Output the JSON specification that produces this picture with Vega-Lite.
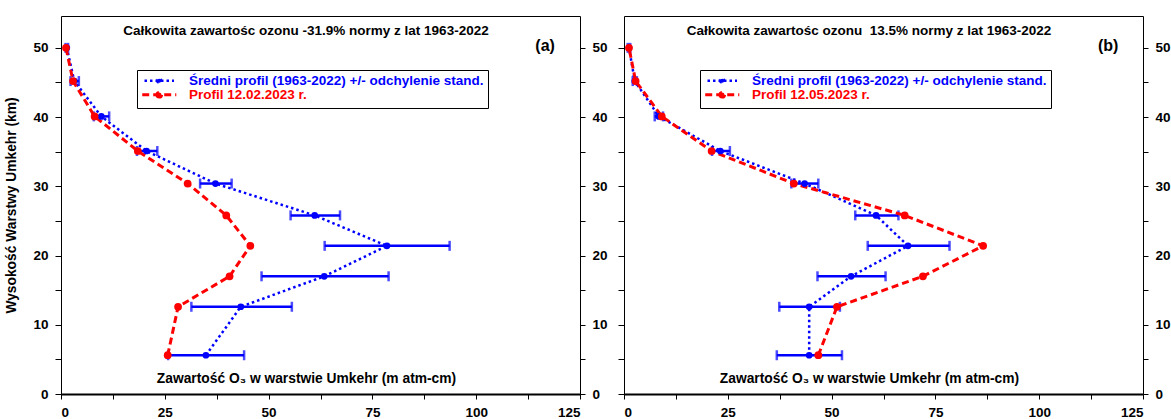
{
  "$schema": "https://vega.github.io/schema/vega-lite/v6.json",
  "background": "white",
  "padding": {"left": 4, "top": 15, "right": 2, "bottom": 0},
  "spacing": 44,
  "bounds": "flush",
  "config": {
    "view": {"stroke": "#000", "strokeWidth": 1},
    "font": "Liberation Sans",
    "axis": {"labelFont": "Liberation Sans", "labelFontWeight": "bold", "labelFontSize": 13.5, "labelColor": "#000", "tickColor": "#000", "titleFont": "Liberation Sans", "titleFontWeight": "bold", "titleFontSize": 13.8, "titleColor": "#000", "grid": false},
    "legend": {"orient": "none", "legendX": 76, "legendY": 54, "strokeColor": "#000", "fillColor": "#fff", "padding": 4, "labelFont": "Liberation Sans", "labelFontWeight": "bold", "labelFontSize": 13.5, "labelLimit": 400, "symbolType": "M-4.4,0H4.4M-0.6,0A0.6,0.6 0 1,0 0.6,0A0.6,0.6 0 1,0 -0.6,0", "symbolSize": 100, "symbolOffset": 11.5, "labelOffset": 23, "rowPadding": -2, "symbolStrokeWidth": 2.5}
  },
  "datasets": {
    "a": [
      {"h": 50.0, "series": "Średni profil (1963-2022) +/- odchylenie stand.", "v": 1.4, "lo": 1.1, "hi": 1.7},
      {"h": 45.2, "series": "Średni profil (1963-2022) +/- odchylenie stand.", "v": 3.2, "lo": 2.3, "hi": 4.3},
      {"h": 40.1, "series": "Średni profil (1963-2022) +/- odchylenie stand.", "v": 9.7, "lo": 7.9, "hi": 11.6},
      {"h": 35.1, "series": "Średni profil (1963-2022) +/- odchylenie stand.", "v": 20.6, "lo": 18.3, "hi": 23.2},
      {"h": 30.4, "series": "Średni profil (1963-2022) +/- odchylenie stand.", "v": 37.2, "lo": 33.5, "hi": 41.1},
      {"h": 25.8, "series": "Średni profil (1963-2022) +/- odchylenie stand.", "v": 61.1, "lo": 55.3, "hi": 67.2},
      {"h": 21.4, "series": "Średni profil (1963-2022) +/- odchylenie stand.", "v": 78.5, "lo": 63.5, "hi": 93.6},
      {"h": 17.0, "series": "Średni profil (1963-2022) +/- odchylenie stand.", "v": 63.4, "lo": 48.3, "hi": 78.9},
      {"h": 12.6, "series": "Średni profil (1963-2022) +/- odchylenie stand.", "v": 43.3, "lo": 31.4, "hi": 55.6},
      {"h": 5.6, "series": "Średni profil (1963-2022) +/- odchylenie stand.", "v": 34.9, "lo": 25.8, "hi": 44.1},
      {"h": 50.0, "series": "Profil 12.02.2023 r.", "v": 1.2},
      {"h": 45.2, "series": "Profil 12.02.2023 r.", "v": 2.9},
      {"h": 40.1, "series": "Profil 12.02.2023 r.", "v": 8.1},
      {"h": 35.1, "series": "Profil 12.02.2023 r.", "v": 18.5},
      {"h": 30.4, "series": "Profil 12.02.2023 r.", "v": 30.5},
      {"h": 25.8, "series": "Profil 12.02.2023 r.", "v": 39.8},
      {"h": 21.4, "series": "Profil 12.02.2023 r.", "v": 45.6},
      {"h": 17.0, "series": "Profil 12.02.2023 r.", "v": 40.6},
      {"h": 12.6, "series": "Profil 12.02.2023 r.", "v": 28.2},
      {"h": 5.6, "series": "Profil 12.02.2023 r.", "v": 25.7}
    ],
    "b": [
      {"h": 50.0, "series": "Średni profil (1963-2022) +/- odchylenie stand.", "v": 1.2, "lo": 0.9, "hi": 1.5},
      {"h": 45.2, "series": "Średni profil (1963-2022) +/- odchylenie stand.", "v": 2.6, "lo": 2.1, "hi": 3.1},
      {"h": 40.1, "series": "Średni profil (1963-2022) +/- odchylenie stand.", "v": 8.4, "lo": 7.4, "hi": 9.4},
      {"h": 35.1, "series": "Średni profil (1963-2022) +/- odchylenie stand.", "v": 23.2, "lo": 21.2, "hi": 25.5},
      {"h": 30.4, "series": "Średni profil (1963-2022) +/- odchylenie stand.", "v": 43.5, "lo": 40.3, "hi": 46.8},
      {"h": 25.8, "series": "Średni profil (1963-2022) +/- odchylenie stand.", "v": 60.7, "lo": 55.7, "hi": 66.1},
      {"h": 21.4, "series": "Średni profil (1963-2022) +/- odchylenie stand.", "v": 68.4, "lo": 58.7, "hi": 78.4},
      {"h": 17.0, "series": "Średni profil (1963-2022) +/- odchylenie stand.", "v": 54.7, "lo": 46.6, "hi": 63.0},
      {"h": 12.6, "series": "Średni profil (1963-2022) +/- odchylenie stand.", "v": 44.6, "lo": 37.4, "hi": 52.0},
      {"h": 5.6, "series": "Średni profil (1963-2022) +/- odchylenie stand.", "v": 44.6, "lo": 36.8, "hi": 52.5},
      {"h": 50.0, "series": "Profil 12.05.2023 r.", "v": 1.2},
      {"h": 45.2, "series": "Profil 12.05.2023 r.", "v": 2.8},
      {"h": 40.1, "series": "Profil 12.05.2023 r.", "v": 9.1},
      {"h": 35.1, "series": "Profil 12.05.2023 r.", "v": 21.1},
      {"h": 30.4, "series": "Profil 12.05.2023 r.", "v": 40.9},
      {"h": 25.8, "series": "Profil 12.05.2023 r.", "v": 67.6},
      {"h": 21.4, "series": "Profil 12.05.2023 r.", "v": 86.5},
      {"h": 17.0, "series": "Profil 12.05.2023 r.", "v": 72.0},
      {"h": 12.6, "series": "Profil 12.05.2023 r.", "v": 51.3},
      {"h": 5.6, "series": "Profil 12.05.2023 r.", "v": 46.8}
    ]
  },
  "resolve": {"scale": {"color": "independent", "strokeDash": "independent", "size": "independent", "strokeWidth": "independent", "x": "independent", "y": "independent"}, "legend": {"color": "independent", "strokeDash": "independent"}},
  "hconcat": [
    {
      "width": 519,
      "height": 378,
      "data": {"name": "a"},
      "resolve": {"axis": {"y": "independent"}},
      "layer": [
        {
          "transform": [{"filter": "isValid(datum.lo)"}],
          "mark": {"type": "errorbar", "ticks": {"size": 10, "thickness": 2.5, "color": "#0000ff"}, "rule": {"strokeWidth": 2.5, "color": "#0000ff"}, "color": "#0000ff"},
          "encoding": {
            "x": {"field": "lo", "type": "quantitative", "scale": {"domain": [0, 125], "nice": false, "zero": false},
              "axis": {"orient": "bottom", "values": [0, 12.5, 25, 37.5, 50, 62.5, 75, 87.5, 100, 112.5, 125], "labelExpr": "datum.value % 25 === 0 ? datum.label : ''", "title": "Zawartość O₃ w warstwie Umkehr (m atm-cm)", "titleX": 245, "titleY": -16, "titleBaseline": "middle", "titleAlign": "center", "domainColor": "#000", "domainWidth": 2, "tickSize": 5, "labelPadding": 6}},
            "x2": {"field": "hi"},
            "y": {"field": "h", "type": "quantitative", "scale": {"domain": [0, 54.6], "nice": false}, "axis": null}
          }
        },
        {
          "mark": {"type": "line"},
          "encoding": {
            "x": {"field": "v", "type": "quantitative", "scale": {"domain": [0, 125], "nice": false, "zero": false},
              "axis": {"orient": "bottom", "values": [0, 12.5, 25, 37.5, 50, 62.5, 75, 87.5, 100, 112.5, 125], "labelExpr": "datum.value % 25 === 0 ? datum.label : ''", "title": "Zawartość O₃ w warstwie Umkehr (m atm-cm)", "titleX": 245, "titleY": -16, "titleBaseline": "middle", "titleAlign": "center", "domainColor": "#000", "domainWidth": 2, "tickSize": 5, "labelPadding": 6}},
            "y": {"field": "h", "type": "quantitative", "scale": {"domain": [0, 54.6], "nice": false},
              "axis": {"orient": "left", "title": "Wysokość Warstwy Umkehr (km)", "values": [0, 5, 10, 15, 20, 25, 30, 35, 40, 45, 50], "labelExpr": "datum.value % 10 === 0 ? datum.label : ''", "tickSize": 6, "labelPadding": 7, "titlePadding": 14, "domain": false}},
            "order": {"field": "h", "type": "quantitative"},
            "color": {"field": "series", "type": "nominal", "scale": {"domain": ["Średni profil (1963-2022) +/- odchylenie stand.", "Profil 12.02.2023 r."], "range": ["#0000ff", "#ff0000"]},
              "legend": {"title": null, "encode": {"labels": {"update": {"fill": {"signal": "indexof(datum.label, 'Profil') === 0 ? '#ff0000' : '#0000ff'"}}}, "symbols": {"update": {"fill": {"signal": "indexof(datum.label, 'Profil') === 0 ? '#ff0000' : '#0000ff'"}, "fillOpacity": {"value": 1}}}}}},
            "strokeDash": {"field": "series", "type": "nominal", "scale": {"domain": ["Średni profil (1963-2022) +/- odchylenie stand.", "Profil 12.02.2023 r."], "range": [[2.5, 3], [7, 4]]},
              "legend": {"title": null, "encode": {"labels": {"update": {"fill": {"signal": "indexof(datum.label, 'Profil') === 0 ? '#ff0000' : '#0000ff'"}}}, "symbols": {"update": {"fill": {"signal": "indexof(datum.label, 'Profil') === 0 ? '#ff0000' : '#0000ff'"}, "fillOpacity": {"value": 1}}}}}},
            "strokeWidth": {"field": "series", "type": "ordinal", "scale": {"domain": ["Średni profil (1963-2022) +/- odchylenie stand.", "Profil 12.02.2023 r."], "range": [2.5, 3]}, "legend": null}
          }
        },
        {
          "mark": {"type": "point", "filled": true, "opacity": 1},
          "encoding": {
            "x": {"field": "v", "type": "quantitative", "scale": {"domain": [0, 125], "nice": false, "zero": false},
              "axis": {"orient": "bottom", "values": [0, 12.5, 25, 37.5, 50, 62.5, 75, 87.5, 100, 112.5, 125], "labelExpr": "datum.value % 25 === 0 ? datum.label : ''", "title": "Zawartość O₃ w warstwie Umkehr (m atm-cm)", "titleX": 245, "titleY": -16, "titleBaseline": "middle", "titleAlign": "center", "domainColor": "#000", "domainWidth": 2, "tickSize": 5, "labelPadding": 6}},
            "y": {"field": "h", "type": "quantitative", "scale": {"domain": [0, 54.6], "nice": false},
              "axis": {"orient": "right", "title": null, "values": [0, 5, 10, 15, 20, 25, 30, 35, 40, 45, 50], "labelExpr": "datum.value % 10 === 0 ? datum.label : ''", "tickSize": 5, "labelPadding": 7, "domain": false}},
            "color": {"field": "series", "type": "nominal", "scale": {"domain": ["Średni profil (1963-2022) +/- odchylenie stand.", "Profil 12.02.2023 r."], "range": ["#0000ff", "#ff0000"]}, "legend": null},
            "size": {"field": "series", "type": "ordinal", "scale": {"domain": ["Średni profil (1963-2022) +/- odchylenie stand.", "Profil 12.02.2023 r."], "range": [45, 60]}, "legend": null}
          }
        },
        {
          "data": {"values": [{"label": "Całkowita zawartośc ozonu -31.9% normy z lat 1963-2022"}]},
          "mark": {"type": "text", "font": "Liberation Sans", "fontWeight": "bold", "fontSize": 13.5, "align": "center", "baseline": "middle", "fill": "#000"},
          "encoding": {
            "text": {"field": "label", "type": "nominal"},
            "x": {"datum": 59, "type": "quantitative", "scale": {"domain": [0, 125], "nice": false, "zero": false},
              "axis": {"orient": "bottom", "values": [0, 12.5, 25, 37.5, 50, 62.5, 75, 87.5, 100, 112.5, 125], "labelExpr": "datum.value % 25 === 0 ? datum.label : ''", "title": "Zawartość O₃ w warstwie Umkehr (m atm-cm)", "titleX": 245, "titleY": -16, "titleBaseline": "middle", "titleAlign": "center", "domainColor": "#000", "domainWidth": 2, "tickSize": 5, "labelPadding": 6}},
            "y": {"datum": 52.4, "type": "quantitative", "scale": {"domain": [0, 54.6], "nice": false}, "axis": null}
          }
        },
        {
          "data": {"values": [{"label": "(a)"}]},
          "mark": {"type": "text", "font": "Liberation Sans", "fontWeight": "bold", "fontSize": 16, "align": "center", "baseline": "middle", "fill": "#000"},
          "encoding": {
            "text": {"field": "label", "type": "nominal"},
            "x": {"datum": 116.6, "type": "quantitative", "scale": {"domain": [0, 125], "nice": false, "zero": false},
              "axis": {"orient": "bottom", "values": [0, 12.5, 25, 37.5, 50, 62.5, 75, 87.5, 100, 112.5, 125], "labelExpr": "datum.value % 25 === 0 ? datum.label : ''", "title": "Zawartość O₃ w warstwie Umkehr (m atm-cm)", "titleX": 245, "titleY": -16, "titleBaseline": "middle", "titleAlign": "center", "domainColor": "#000", "domainWidth": 2, "tickSize": 5, "labelPadding": 6}},
            "y": {"datum": 50.2, "type": "quantitative", "scale": {"domain": [0, 54.6], "nice": false}, "axis": null}
          }
        }
      ]
    },
    {
      "width": 519,
      "height": 378,
      "data": {"name": "b"},
      "resolve": {"axis": {"y": "independent"}},
      "layer": [
        {
          "transform": [{"filter": "isValid(datum.lo)"}],
          "mark": {"type": "errorbar", "ticks": {"size": 10, "thickness": 2.5, "color": "#0000ff"}, "rule": {"strokeWidth": 2.5, "color": "#0000ff"}, "color": "#0000ff"},
          "encoding": {
            "x": {"field": "lo", "type": "quantitative", "scale": {"domain": [0, 125], "nice": false, "zero": false},
              "axis": {"orient": "bottom", "values": [0, 12.5, 25, 37.5, 50, 62.5, 75, 87.5, 100, 112.5, 125], "labelExpr": "datum.value % 25 === 0 ? datum.label : ''", "title": "Zawartość O₃ w warstwie Umkehr (m atm-cm)", "titleX": 245, "titleY": -16, "titleBaseline": "middle", "titleAlign": "center", "domainColor": "#000", "domainWidth": 2, "tickSize": 5, "labelPadding": 6}},
            "x2": {"field": "hi"},
            "y": {"field": "h", "type": "quantitative", "scale": {"domain": [0, 54.6], "nice": false}, "axis": null}
          }
        },
        {
          "mark": {"type": "line"},
          "encoding": {
            "x": {"field": "v", "type": "quantitative", "scale": {"domain": [0, 125], "nice": false, "zero": false},
              "axis": {"orient": "bottom", "values": [0, 12.5, 25, 37.5, 50, 62.5, 75, 87.5, 100, 112.5, 125], "labelExpr": "datum.value % 25 === 0 ? datum.label : ''", "title": "Zawartość O₃ w warstwie Umkehr (m atm-cm)", "titleX": 245, "titleY": -16, "titleBaseline": "middle", "titleAlign": "center", "domainColor": "#000", "domainWidth": 2, "tickSize": 5, "labelPadding": 6}},
            "y": {"field": "h", "type": "quantitative", "scale": {"domain": [0, 54.6], "nice": false},
              "axis": {"orient": "left", "title": null, "labels": false, "values": [0, 5, 10, 15, 20, 25, 30, 35, 40, 45, 50], "tickSize": 6, "domain": false}},
            "order": {"field": "h", "type": "quantitative"},
            "color": {"field": "series", "type": "nominal", "scale": {"domain": ["Średni profil (1963-2022) +/- odchylenie stand.", "Profil 12.05.2023 r."], "range": ["#0000ff", "#ff0000"]},
              "legend": {"title": null, "encode": {"labels": {"update": {"fill": {"signal": "indexof(datum.label, 'Profil') === 0 ? '#ff0000' : '#0000ff'"}}}, "symbols": {"update": {"fill": {"signal": "indexof(datum.label, 'Profil') === 0 ? '#ff0000' : '#0000ff'"}, "fillOpacity": {"value": 1}}}}}},
            "strokeDash": {"field": "series", "type": "nominal", "scale": {"domain": ["Średni profil (1963-2022) +/- odchylenie stand.", "Profil 12.05.2023 r."], "range": [[2.5, 3], [7, 4]]},
              "legend": {"title": null, "encode": {"labels": {"update": {"fill": {"signal": "indexof(datum.label, 'Profil') === 0 ? '#ff0000' : '#0000ff'"}}}, "symbols": {"update": {"fill": {"signal": "indexof(datum.label, 'Profil') === 0 ? '#ff0000' : '#0000ff'"}, "fillOpacity": {"value": 1}}}}}},
            "strokeWidth": {"field": "series", "type": "ordinal", "scale": {"domain": ["Średni profil (1963-2022) +/- odchylenie stand.", "Profil 12.05.2023 r."], "range": [2.5, 3]}, "legend": null}
          }
        },
        {
          "mark": {"type": "point", "filled": true, "opacity": 1},
          "encoding": {
            "x": {"field": "v", "type": "quantitative", "scale": {"domain": [0, 125], "nice": false, "zero": false},
              "axis": {"orient": "bottom", "values": [0, 12.5, 25, 37.5, 50, 62.5, 75, 87.5, 100, 112.5, 125], "labelExpr": "datum.value % 25 === 0 ? datum.label : ''", "title": "Zawartość O₃ w warstwie Umkehr (m atm-cm)", "titleX": 245, "titleY": -16, "titleBaseline": "middle", "titleAlign": "center", "domainColor": "#000", "domainWidth": 2, "tickSize": 5, "labelPadding": 6}},
            "y": {"field": "h", "type": "quantitative", "scale": {"domain": [0, 54.6], "nice": false},
              "axis": {"orient": "right", "title": null, "values": [0, 5, 10, 15, 20, 25, 30, 35, 40, 45, 50], "labelExpr": "datum.value % 10 === 0 ? datum.label : ''", "tickSize": 5, "labelPadding": 7, "domain": false}},
            "color": {"field": "series", "type": "nominal", "scale": {"domain": ["Średni profil (1963-2022) +/- odchylenie stand.", "Profil 12.05.2023 r."], "range": ["#0000ff", "#ff0000"]}, "legend": null},
            "size": {"field": "series", "type": "ordinal", "scale": {"domain": ["Średni profil (1963-2022) +/- odchylenie stand.", "Profil 12.05.2023 r."], "range": [45, 60]}, "legend": null}
          }
        },
        {
          "data": {"values": [{"label": "Całkowita zawartośc ozonu \u00a013.5% normy z lat 1963-2022"}]},
          "mark": {"type": "text", "font": "Liberation Sans", "fontWeight": "bold", "fontSize": 13.5, "align": "center", "baseline": "middle", "fill": "#000"},
          "encoding": {
            "text": {"field": "label", "type": "nominal"},
            "x": {"datum": 59, "type": "quantitative", "scale": {"domain": [0, 125], "nice": false, "zero": false},
              "axis": {"orient": "bottom", "values": [0, 12.5, 25, 37.5, 50, 62.5, 75, 87.5, 100, 112.5, 125], "labelExpr": "datum.value % 25 === 0 ? datum.label : ''", "title": "Zawartość O₃ w warstwie Umkehr (m atm-cm)", "titleX": 245, "titleY": -16, "titleBaseline": "middle", "titleAlign": "center", "domainColor": "#000", "domainWidth": 2, "tickSize": 5, "labelPadding": 6}},
            "y": {"datum": 52.4, "type": "quantitative", "scale": {"domain": [0, 54.6], "nice": false}, "axis": null}
          }
        },
        {
          "data": {"values": [{"label": "(b)"}]},
          "mark": {"type": "text", "font": "Liberation Sans", "fontWeight": "bold", "fontSize": 16, "align": "center", "baseline": "middle", "fill": "#000"},
          "encoding": {
            "text": {"field": "label", "type": "nominal"},
            "x": {"datum": 116.6, "type": "quantitative", "scale": {"domain": [0, 125], "nice": false, "zero": false},
              "axis": {"orient": "bottom", "values": [0, 12.5, 25, 37.5, 50, 62.5, 75, 87.5, 100, 112.5, 125], "labelExpr": "datum.value % 25 === 0 ? datum.label : ''", "title": "Zawartość O₃ w warstwie Umkehr (m atm-cm)", "titleX": 245, "titleY": -16, "titleBaseline": "middle", "titleAlign": "center", "domainColor": "#000", "domainWidth": 2, "tickSize": 5, "labelPadding": 6}},
            "y": {"datum": 50.2, "type": "quantitative", "scale": {"domain": [0, 54.6], "nice": false}, "axis": null}
          }
        }
      ]
    }
  ]
}
